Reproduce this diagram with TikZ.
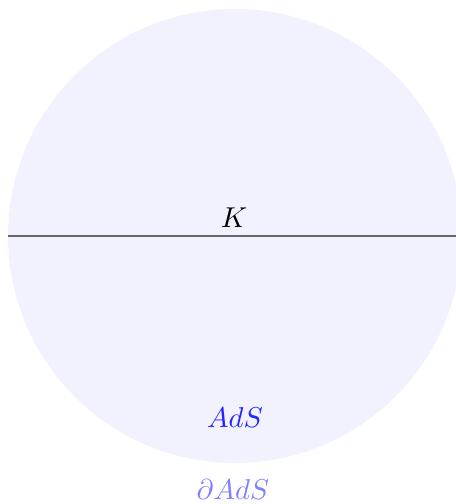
\documentclass[tikz,border=0pt]{standalone}
\begin{document}
\begin{tikzpicture}[x=0.013228cm,y=-0.013228cm,
  lbl/.style={inner sep=0pt, scale=1.08}]
\useasboundingbox (0,0) rectangle (456,504);
\clip (0,0) rectangle (456,504);
\fill[blue!5] (235,236) circle (227);
\coordinate (l) at (8,236);
\coordinate (r) at (462,236);
\draw[black!60, line width=0.6pt] (l) -- (r);
\node[lbl] (k) at (234,218) {$K$};
\node[lbl, text=blue!85] (ads) at (235,418) {$AdS$};
\node[lbl, text=blue!50] (bdy) at (233,490) {$\partial AdS$};
\end{tikzpicture}
\end{document}
